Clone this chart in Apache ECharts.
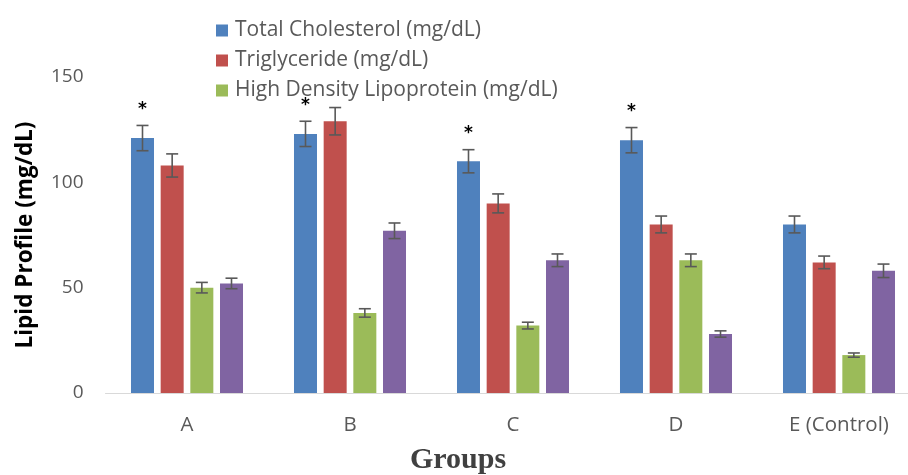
<!DOCTYPE html>
<html>
<head>
<meta charset="utf-8">
<script src="https://cdn.jsdelivr.net/npm/echarts@6/dist/echarts.min.js"></script>
<style>html,body{margin:0;padding:0;background:#fff;}#chart{width:908px;height:475px;}</style>
</head>
<body>
<div id="chart"></div>
<script>
var categories = ['A', 'B', 'C', 'D', 'E (Control)'];
var seriesNames = ['Total Cholesterol (mg/dL)', 'Triglyceride (mg/dL)', 'High Density Lipoprotein (mg/dL)', 'Series 4'];
var totalChol = [121, 123, 110, 120, 80];
var triglyceride = [108, 129, 90, 80, 62];
var hdl = [50, 38, 32, 63, 18];
var series4 = [52, 77, 63, 28, 58];
var totalCholErr = [6, 6, 5.5, 6, 4];
var triglycerideErr = [5.5, 6.5, 4.5, 4, 3];
var hdlErr = [2.5, 2, 1.6, 3, 1];
var series4Err = [2.5, 3.7, 3, 1.5, 3.2];
var significance = ['*', '*', '*', '*', ''];
var yTicks = [0, 50, 100, 150];

var colors = ['#4F81BD', '#C0504D', '#9BBB59', '#8064A2'];
var values = [totalChol, triglyceride, hdl, series4];
var errors = [totalCholErr, triglycerideErr, hdlErr, series4Err];
var BAR_W = 23, GAP = 0.29;
var pitch = BAR_W * (1 + GAP);

var chart = echarts.init(document.getElementById('chart'));
var series = [];
values.forEach(function (vals, i) {
  series.push({
    name: seriesNames[i],
    type: 'bar',
    data: vals,
    barWidth: BAR_W,
    barGap: (GAP * 100) + '%',
    itemStyle: { color: colors[i] },
    z: 2
  });
});
values.forEach(function (vals, i) {
  var data = vals.map(function (v, j) { return [j, v, errors[i][j], i === 0 ? significance[j] : '']; });
  series.push({
    type: 'custom',
    name: seriesNames[i] + ' error',
    data: data,
    z: 5,
    silent: true,
    renderItem: function (params, api) {
      var x = api.value(0), v = api.value(1), e = api.value(2);
      var sig = data[params.dataIndex][3];
      var off = (i - 1.5) * pitch;
      var top = api.coord([x, v + e]);
      var bot = api.coord([x, v - e]);
      var cx = top[0] + off;
      var cap = 6;
      var st = { stroke: '#595959', lineWidth: 1.6 };
      var children = [
        { type: 'line', shape: { x1: cx, y1: top[1], x2: cx, y2: bot[1] }, style: st },
        { type: 'line', shape: { x1: cx - cap, y1: top[1], x2: cx + cap, y2: top[1] }, style: st },
        { type: 'line', shape: { x1: cx - cap, y1: bot[1], x2: cx + cap, y2: bot[1] }, style: st }
      ];
      if (sig) {
        children.push({ type: 'text', style: { text: sig, x: cx, y: top[1] - 16, align: 'center', verticalAlign: 'middle', fontSize: 17, fontWeight: 'bold', fontFamily: 'DejaVu Sans', fill: '#000' } });
      }
      return { type: 'group', children: children };
    }
  });
});

chart.setOption({
  animation: false,
  backgroundColor: '#fff',
  grid: { left: 105.5, width: 815, top: 77, bottom: 82, containLabel: false, outerBoundsMode: 'none' },
  legend: {
    data: seriesNames.slice(0, 3),
    orient: 'vertical',
    left: 211,
    top: 13,
    itemWidth: 12,
    itemHeight: 12,
    itemGap: 5,
    icon: 'rect',
    textStyle: { fontFamily: 'Open Sans', fontSize: 21, color: '#595959', lineHeight: 25, padding: [0, 0, 0, 2] }
  },
  xAxis: {
    type: 'category',
    data: categories,
    axisLine: { lineStyle: { color: '#D9D9D9', width: 1 } },
    axisTick: { show: false },
    axisLabel: { fontFamily: 'Open Sans', fontSize: 20.5, color: '#595959', margin: 22 }
  },
  yAxis: {
    type: 'value',
    min: yTicks[0],
    max: yTicks[yTicks.length - 1],
    interval: 50,
    axisLine: { show: false },
    axisTick: { show: false },
    splitLine: { show: false },
    axisLabel: { fontFamily: 'Open Sans', fontSize: 19, color: '#595959', margin: 22 },
    name: 'Lipid Profile (mg/dL)',
    nameLocation: 'middle',
    nameGap: 68,
    nameRotate: 90,
    nameTextStyle: { fontFamily: 'Open Sans', fontWeight: 'bold', fontSize: 22.5, color: '#000' }
  },
  graphic: [{
    type: 'text',
    left: 410,
    top: 445,
    style: { text: 'Groups', fontFamily: 'Liberation Serif', fontWeight: 'bold', fontSize: 30, fill: '#404040' }
  }],
  series: series
});
</script>
</body>
</html>
